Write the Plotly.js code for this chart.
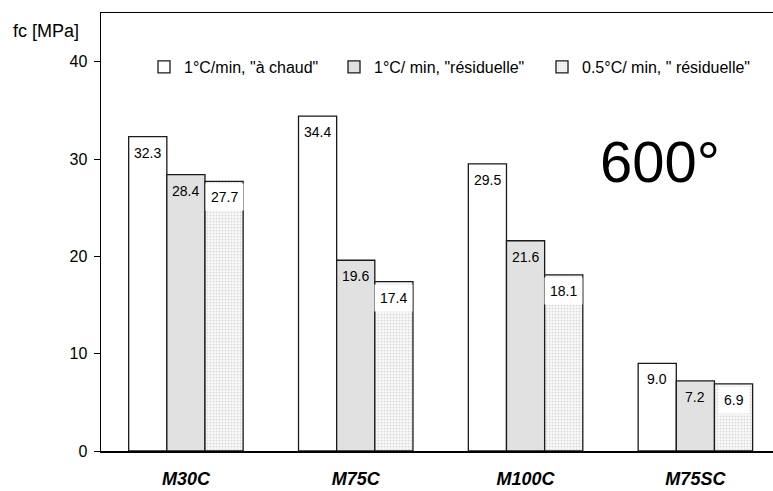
<!DOCTYPE html>
<html>
<head>
<meta charset="utf-8">
<script src="https://cdn.plot.ly/plotly-3.0.1.min.js"></script>
<style>html,body{margin:0;padding:0;background:#fff;}#chart{width:773px;height:491px;}</style>
</head>
<body>
<div id="chart"></div>
<script>
// ---- data ----
const categories = ["M30C", "M75C", "M100C", "M75SC"];
const seriesNames = ['1°C/min, "à chaud"', '1°C/ min, "résiduelle"', '0.5°C/ min, " résiduelle"'];
const hotValues = [32.3, 34.4, 29.5, 9.0];
const residual1Values = [28.4, 19.6, 21.6, 7.2];
const residual05Values = [27.7, 17.4, 18.1, 6.9];
const yTickValues = [0, 10, 20, 30, 40];
const yAxisLabel = "fc [MPa]";
const temperatureLabel = "600°";

// ---- layout constants ----
const W = 773, H = 491;
const mL = 101, mR = 0, mT = 13, mB = 40;
const bargap = 0.326;
const xRange = [-0.5, 3.457];
const pxPerCat = (W - mL - mR) / (xRange[1] - xRange[0]);
const barPx = (1 - bargap) / 3 * pxPerCat;

const font = "Liberation Sans, Arial, sans-serif";
const edge = {color: "#1a1a1a", width: 1.3};

const traces = [
  {type: "bar", name: seriesNames[0], x: categories, y: hotValues,
   marker: {color: "#ffffff", line: edge}, legendwidth: 145},
  {type: "bar", name: seriesNames[1], x: categories, y: residual1Values,
   marker: {color: "#e1e1e1", line: edge}, legendwidth: 163},
  {type: "bar", name: seriesNames[2], x: categories, y: residual05Values,
   marker: {color: "#ffffff", line: edge,
            pattern: {shape: ".", fgcolor: "#d6d6d6", bgcolor: "#f7f7f7", size: 3, solidity: 0.25}}}
];
traces.forEach(t => { t.hoverinfo = "none"; });

const annotations = [];
[hotValues, residual1Values, residual05Values].forEach((vals, i) => {
  vals.forEach((v, j) => {
    annotations.push({
      x: categories[j], y: v, xref: "x", yref: "y",
      text: v.toFixed(1), showarrow: false,
      xanchor: "center", yanchor: "top",
      xshift: (i - 1) * barPx, yshift: i === 2 ? -2 : -6,
      font: {family: font, size: 14, color: "#000"},
      bgcolor: i === 2 ? "#ffffff" : "rgba(0,0,0,0)",
      borderpad: i === 2 ? 5 : 1
    });
  });
});
annotations.push({
  xref: "paper", yref: "paper", x: (46 - mL) / (W - mL - mR), y: (H - mB - 31) / (H - mT - mB),
  xanchor: "center", yanchor: "middle", showarrow: false,
  text: yAxisLabel, font: {family: font, size: 18, color: "#000"}
});
annotations.push({
  xref: "paper", yref: "paper", x: (660 - mL) / (W - mL - mR), y: (H - mB - 161) / (H - mT - mB),
  xanchor: "center", yanchor: "middle", showarrow: false,
  text: temperatureLabel, font: {family: font, size: 58, color: "#000"}
});

const layout = {
  width: W, height: H,
  margin: {l: mL, r: mR, t: mT, b: mB, pad: 0},
  paper_bgcolor: "#ffffff", plot_bgcolor: "#ffffff",
  barmode: "group", bargap: bargap, bargroupgap: 0,
  font: {family: font, color: "#000"},
  showlegend: true,
  legend: {
    orientation: "h", xref: "paper", yref: "paper",
    x: (144 - mL) / (W - mL - mR), xanchor: "left",
    y: (H - mB - 67) / (H - mT - mB), yanchor: "middle",
    font: {family: font, size: 16, color: "#000"},
    bgcolor: "rgba(0,0,0,0)", borderwidth: 0,
    traceorder: "normal", itemclick: false, itemdoubleclick: false
  },
  xaxis: {
    type: "category", range: xRange, fixedrange: true,
    showline: true, linecolor: "#000", linewidth: 1.5, mirror: true,
    ticks: "", showgrid: false, zeroline: false,
    tickfont: {family: font, size: 18, color: "#000", weight: "bold", style: "italic"},
    ticklabelstandoff: 11
  },
  yaxis: {
    range: [0, 45], fixedrange: true,
    tickvals: yTickValues, ticktext: yTickValues.map(String),
    showline: true, linecolor: "#000", linewidth: 1.5,
    ticks: "outside", ticklen: 6, tickwidth: 1, tickcolor: "#000",
    showgrid: false, zeroline: false,
    tickfont: {family: font, size: 16, color: "#000"},
    ticklabelstandoff: 3
  },
  annotations: annotations
};

Plotly.newPlot("chart", traces, layout, {staticPlot: true, displayModeBar: false});
</script>
</body>
</html>
